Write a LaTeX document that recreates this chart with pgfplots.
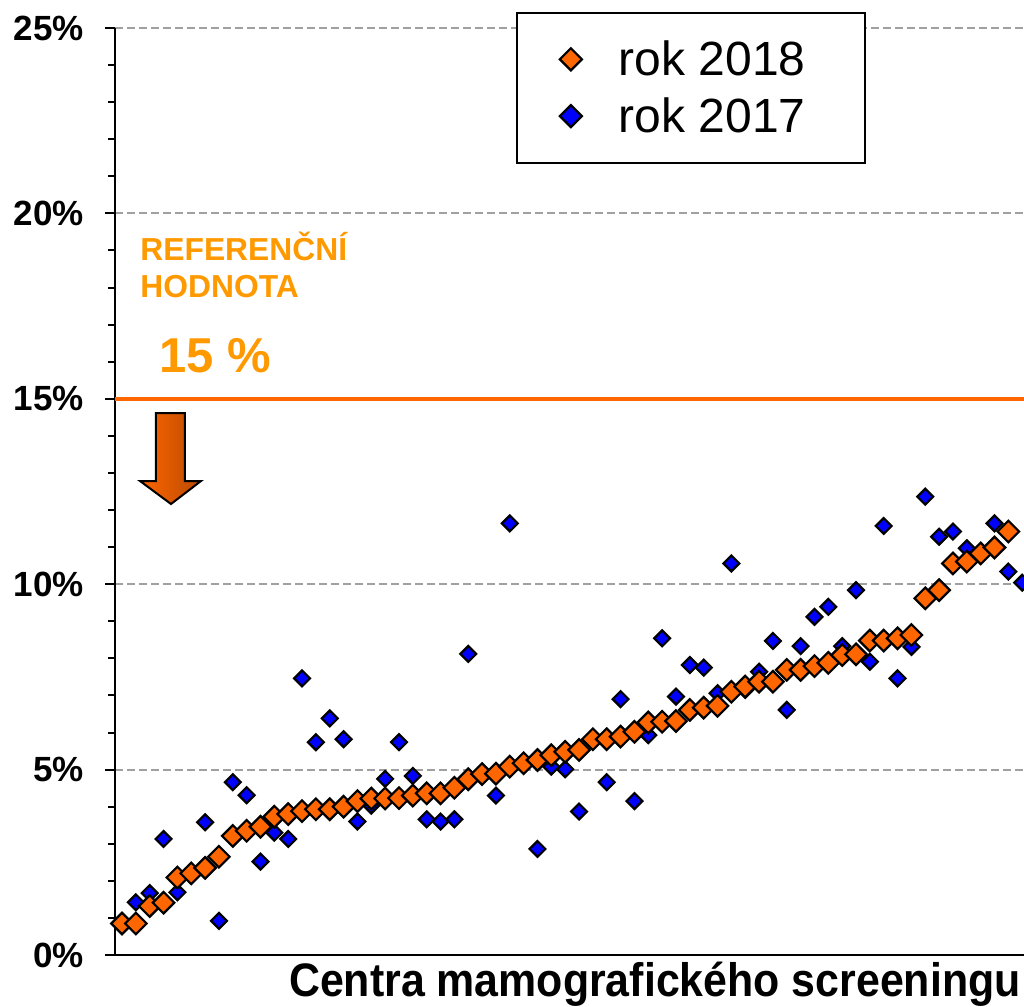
\documentclass[border=0pt]{standalone}
\usepackage{graphicx}
\usepackage{pgfplots}
\pgfplotsset{compat=1.18}
\usepackage{fontspec}
\setmainfont{Liberation Sans}
\definecolor{myorange}{HTML}{FF6600}
\definecolor{myblue}{HTML}{0000FF}
\definecolor{reftext}{HTML}{FF9900}
\definecolor{gridgray}{HTML}{A0A0A0}
\definecolor{darkor}{HTML}{B84A00}
\begin{document}
\begin{tikzpicture}
\begin{axis}[
  name=ax,
  scale only axis,
  width=454.5pt, height=463.5pt,
  xmin=0.495, xmax=66.13,
  ymin=0, ymax=25,
  axis lines=left,
  axis line style={line width=1.3pt, -},
  xtick=\empty,
  ytick={0,5,10,15,20,25},
  minor y tick num=4,
  tick align=outside,
  major tick length=5pt,
  minor tick length=3.5pt,
  tick style={black, line width=1pt},
  ymajorgrids,
  major grid style={gridgray, line width=1pt, dash pattern=on 4pt off 2pt},
  /pgf/number format/assume math mode=true,
  yticklabel={\pgfmathprintnumber{\tick}\%},
  yticklabel style={font=\fontsize{17.5}{20}\selectfont\bfseries, xshift=-7pt},
  xlabel={\scalebox{0.9125}[1]{Centra mamografického screeningu}},
  xlabel style={at={(axis description cs:0.594,0)}, anchor=base, yshift=-20.5pt, font=\fontsize{23.5}{26}\selectfont\bfseries},
  legend style={at={(0.441,1.0173)}, anchor=north west, draw=black, line width=1pt,
    font=\fontsize{24}{28}\selectfont, inner xsep=20pt, inner ysep=11.75pt, row sep=5.5pt},
  legend image code/.code={%
    \path[draw=none, fill=none] (-7pt,-11pt) rectangle (22pt,11pt);
    \draw[#1, mark size=3.9pt] plot coordinates {(0pt,0pt)};},
  legend cell align=left,
  reverse legend,
]
% 2017
\addplot[only marks, mark=square*, mark size=2.8pt,
  mark options={rotate=45, draw=black, fill=myblue, line width=1.1pt}]
coordinates {
(1,0.9) (2,1.42) (3,1.67) (4,3.13) (5,1.69) (6,2.15) (7,3.58) (8,0.92) (9,4.66) (10,4.31)
(11,2.52) (12,3.30) (13,3.13) (14,7.46) (15,5.74) (16,6.38) (17,5.82) (18,3.60) (19,4.03) (20,4.75)
(21,5.74) (22,4.83) (23,3.66) (24,3.60) (25,3.66) (26,8.12) (27,4.85) (28,4.30) (29,11.64) (30,5.15)
(31,2.86) (32,5.08) (33,5.01) (34,3.87) (35,5.80) (36,4.66) (37,6.90) (38,4.15) (39,5.93) (40,8.54)
(41,6.97) (42,7.82) (43,7.75) (44,7.06) (45,10.56) (46,7.15) (47,7.64) (48,8.47) (49,6.61) (50,8.33)
(51,9.12) (52,9.39) (53,8.33) (54,9.84) (55,7.91) (56,11.57) (57,7.46) (58,8.31) (59,12.36) (60,11.28)
(61,11.42) (62,10.97) (63,10.80) (64,11.64) (65,10.34) (66,10.04)
};
\addlegendentry{rok 2017\rule{7.5pt}{0pt}}
% 2018
\addplot[only marks, mark=square*, mark size=3.8pt,
  mark options={rotate=45, draw=black, fill=myorange, line width=1.1pt}]
coordinates {
(1,0.85) (2,0.85) (3,1.32) (4,1.41) (5,2.09) (6,2.20) (7,2.35) (8,2.65) (9,3.21) (10,3.35)
(11,3.46) (12,3.73) (13,3.80) (14,3.88) (15,3.93) (16,3.93) (17,4.00) (18,4.15) (19,4.22) (20,4.22)
(21,4.23) (22,4.30) (23,4.36) (24,4.36) (25,4.51) (26,4.74) (27,4.88) (28,4.89) (29,5.08) (30,5.17)
(31,5.26) (32,5.39) (33,5.48) (34,5.53) (35,5.82) (36,5.82) (37,5.89) (38,6.02) (39,6.27) (40,6.29)
(41,6.31) (42,6.61) (43,6.67) (44,6.72) (45,7.10) (46,7.24) (47,7.37) (48,7.37) (49,7.69) (50,7.69)
(51,7.79) (52,7.88) (53,8.09) (54,8.11) (55,8.48) (56,8.48) (57,8.54) (58,8.63) (59,9.62) (60,9.84)
(61,10.56) (62,10.61) (63,10.83) (64,10.99) (65,11.42)
};
\addlegendentry{rok 2018\rule{7.5pt}{0pt}}
% reference line
\addplot[myorange, line width=2pt, forget plot] coordinates {(0.495,15) (66.13,15)};
% arrow
\fill[left color=myorange, right color=darkor, draw=black, line width=1pt]
  (axis cs:3.455,14.617) -- (axis cs:5.549,14.617) -- (axis cs:5.549,12.783)
  -- (axis cs:6.704,12.783) -- (axis cs:4.538,12.163) -- (axis cs:2.30,12.783)
  -- (axis cs:3.455,12.783) -- cycle;
\node[anchor=base west, inner sep=0pt, text=reftext, font=\fontsize{15.9}{18}\selectfont\bfseries]
  at (axis cs:2.30,18.743) {REFERENČNÍ};
\node[anchor=base west, inner sep=0pt, text=reftext, font=\fontsize{15.9}{18}\selectfont\bfseries]
  at (axis cs:2.30,17.745) {HODNOTA};
\node[anchor=base west, inner sep=0pt, text=reftext, font=\fontsize{24.5}{28}\selectfont\bfseries]
  at (axis cs:3.69,15.696) {15 \%};
\end{axis}
\pgfresetboundingbox
\path[use as bounding box] ([xshift=-57.5pt,yshift=-25.5pt]ax.south west) rectangle ([yshift=14pt]ax.north east);
\end{tikzpicture}
\end{document}
